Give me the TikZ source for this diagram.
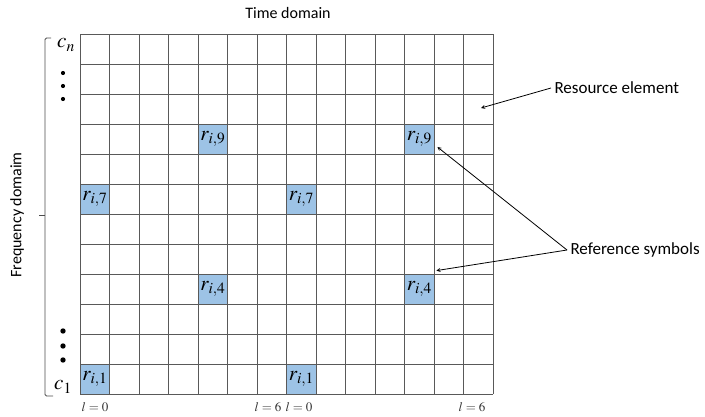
\documentclass[tikz,border=0pt]{standalone}
\usepackage{amsmath}
\usepackage{mathptmx}
\usepackage{fontspec}
\setsansfont{Carlito}
\usepackage{tikz}
\usetikzlibrary{arrows,positioning}
\definecolor{refblue}{RGB}{157,195,230}
\tikzstyle{refcell}=[fill=refblue, inner sep=0pt, minimum width=29.5pt, minimum height=30pt, anchor=south west, font=\fontsize{21}{24}\selectfont]
\tikzstyle{gridline}=[black!65, line width=0.9pt]
\tikzstyle{caption}=[font=\sffamily\fontsize{16}{19}\selectfont]
\tikzstyle{lidx}=[font=\fontsize{13}{15}\selectfont, text=black!80]
\newcommand{\refcell}{\node[refcell]}

\begin{document}
\begin{tikzpicture}[x=1pt, y=1pt]
            \useasboundingbox (0,0) rectangle (705,416);
            % reference symbols
            \refcell (r1a) at (80,22) {$r_{i,1}$};
            \refcell (r1b) at (286.5,22) {$r_{i,1}$};
            \refcell (r4a) at (198,112) {$r_{i,4}$};
            \refcell (r4b) at (404.5,112) {$r_{i,4}$};
            \refcell (r7a) at (80,202) {$r_{i,7}$};
            \refcell (r7b) at (286.5,202) {$r_{i,7}$};
            \refcell (r9a) at (198,262) {$r_{i,9}$};
            \refcell (r9b) at (404.5,262) {$r_{i,9}$};
            % resource grid
            \draw[gridline, shift={(80,22)}, xstep=29.5, ystep=30] (0,0) grid (413.1,360.1);
            % axes
            \node[caption] (time) at (288,403) {Time domain};
            \node[caption, rotate=90] (freq) at (17,201) {Frequency domaim};
            \draw[line width=0.8pt, black!70, rounded corners=1.5pt] (51,378) -| (45,20) -- (53,20);
            \draw[line width=0.8pt, black!70] (45,201) -- (39,201);
            \node[font=\fontsize{21}{24}\selectfont] (cn) at (66,371) {$c_n$};
            \node[font=\fontsize{21}{24}\selectfont] (c1) at (63,29) {$c_1$};
            \foreach \y in {343,330,317} \fill (63,\y) circle (2.1pt);
            \foreach \y in {85,70,56} \fill (63,\y) circle (2.7pt);
            \node[lidx] (l0a) at (95,9) {$l=0$};
            \node[lidx] (l6a) at (268,9) {$l=6$};
            \node[lidx] (l0b) at (299,9) {$l=0$};
            \node[lidx] (l6b) at (472,9) {$l=6$};
            % annotations
            \coordinate (re) at (481,308);
            \node[caption, anchor=west, font=\sffamily\fontsize{17}{20}\selectfont] (resel) at (551,328) {Resource element};
            \node[caption, anchor=west, font=\sffamily\fontsize{17}{20}\selectfont] (refsym) at (567,166) {Reference symbols};
            \path[->, >=stealth, line width=0.8pt]
                (resel.west) edge (re)
                (refsym.west) edge ([shift={(3,7)}]r9b.south east)
                (refsym.west) edge ([shift={(2,3)}]r4b.north east)
            ;
        \end{tikzpicture}
\end{document}
